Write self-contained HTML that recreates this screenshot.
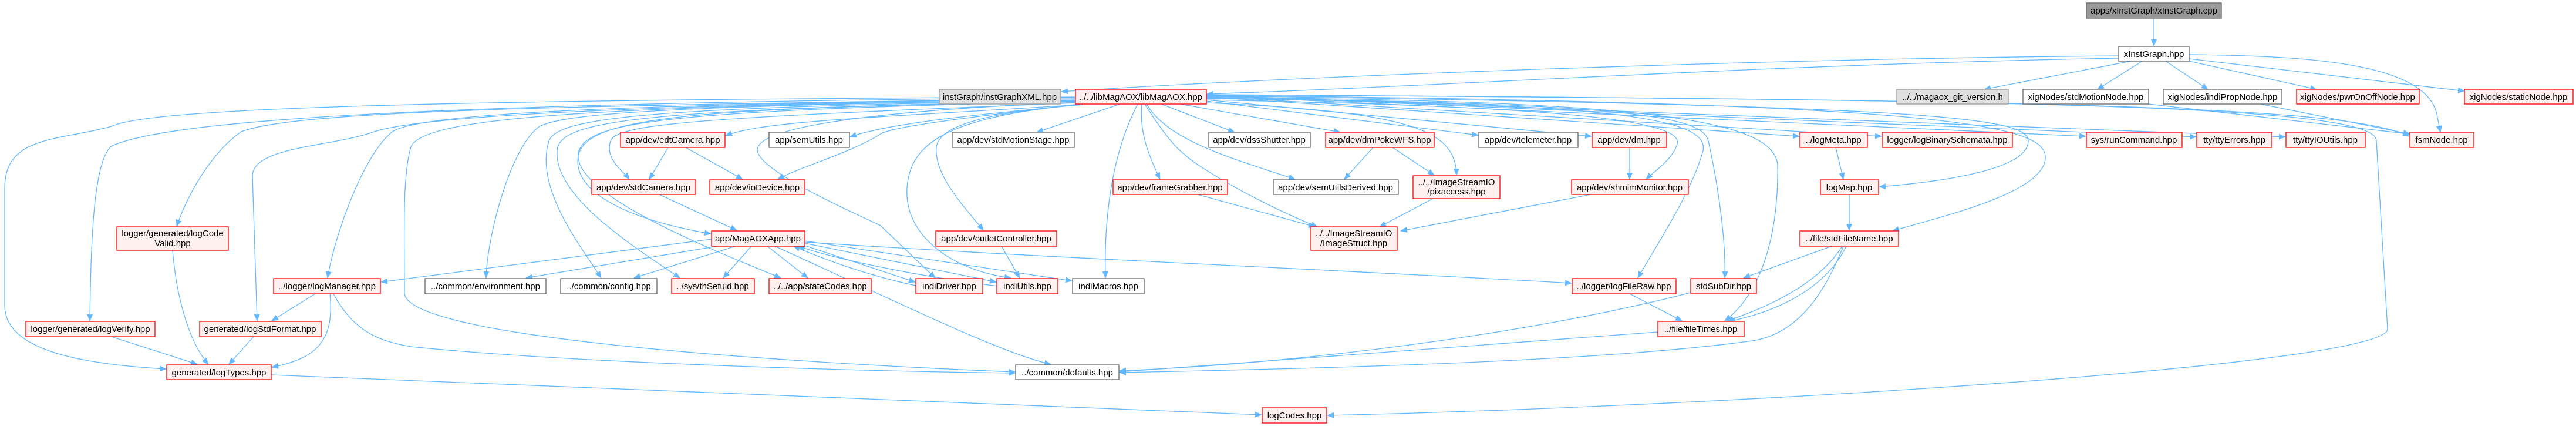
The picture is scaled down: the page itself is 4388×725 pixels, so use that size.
<!DOCTYPE html>
<html><head><meta charset="utf-8"><style>
html,body{margin:0;padding:0;background:#fff;}
svg{display:block;}
text{font-family:"Liberation Sans",sans-serif;font-size:15px;fill:#000;text-anchor:middle;}
.e{fill:none;stroke:#63b8ff;stroke-width:1.3;marker-end:url(#a);}
.r{fill:#fff0f0;stroke:#ff0000;stroke-width:1.3;}
.g{fill:#fff;stroke:#666;stroke-width:1.3;}
.l{fill:#e0e0e0;stroke:#999;stroke-width:1.3;}
.d{fill:#999;stroke:#666;stroke-width:1.3;}
</style></head><body>
<svg width="4388" height="725" viewBox="0 0 4388 725" xmlns="http://www.w3.org/2000/svg">
<defs><marker id="a" markerWidth="12" markerHeight="10" refX="11" refY="5" orient="auto" markerUnits="userSpaceOnUse"><path d="M0,0 L12,5 L0,10 z" fill="#63b8ff"/></marker></defs>
<g>
<path class="e" d="M3669,31 L3669,78"/>
<path class="e" d="M3609,95 C3000,100 2200,130 1808,156"/>
<path class="e" d="M3609,99 C3000,110 2500,145 2056,160"/>
<path class="e" d="M3630,104 L3380,152"/>
<path class="e" d="M3649,104 L3573,152"/>
<path class="e" d="M3689,104 L3761,152"/>
<path class="e" d="M3729,104 L3946,152"/>
<path class="e" d="M3729,100 L4198,155"/>
<path class="e" d="M3729,93 C3950,95 4140,110 4152,200 L4157,225"/>
<path class="e" d="M3660,177 L4105,228"/>
<path class="e" d="M3850,177 L4105,228"/>
<!-- libMagAOX left -->
<path class="e" d="M1840,178 C1500,200 1300,205 1236,231"/>
<path class="e" d="M1845,178 C1600,200 1500,215 1448,233"/>
<path class="e" d="M1835,175 C1200,200 1050,210 1040,240 C1030,270 1060,290 1072,305"/>
<path class="e" d="M1838,177 C1650,200 1520,215 1500,228 C1450,260 1360,285 1325,305"/>
<path class="e" d="M1835,172 C1200,185 1000,195 985,265 C975,320 1050,370 1211,398"/>
<path class="e" d="M1832,168 C900,180 500,190 411,224 C360,260 320,330 301,385"/>
<path class="e" d="M1832,168 C1000,178 720,195 670,223 C620,260 570,400 558,473"/>
<path class="e" d="M1835,170 C1100,180 960,195 919,215 C870,250 830,400 828,473"/>
<path class="e" d="M1835,171 C1100,182 950,200 935,240 C910,320 990,420 1024,473"/>
<path class="e" d="M1835,172 C1100,185 965,205 950,250 C935,330 1080,420 1158,473"/>
<path class="e" d="M1835,173 C1100,188 1000,210 985,260 C975,330 1200,420 1330,473"/>
<path class="e" d="M1832,166 C800,175 300,200 191,248 C160,270 155,400 153,546"/>
<path class="e" d="M1832,168 C1000,180 700,200 632,226 C560,250 430,250 430,300 L438,546"/>
<path class="e" d="M1832,165 C700,170 250,185 190,215 C100,240 8,230 8,320 L8,520 C8,600 150,620 283,628"/>
<path class="e" d="M1832,170 C1000,180 720,200 700,250 C685,300 689,400 689,500 C700,580 1400,620 1729,633"/>
<!-- libMagAOX right -->
<path class="e" d="M1908,177 L1766,225"/>
<path class="e" d="M1978,177 L2103,225"/>
<path class="e" d="M2010,177 L2283,225"/>
<path class="e" d="M2055,172 L2518,230"/>
<path class="e" d="M2055,170 L2711,232"/>
<path class="e" d="M1945,177 C1940,230 1960,270 1976,305"/>
<path class="e" d="M1953,177 C1990,240 2100,270 2206,305"/>
<path class="e" d="M2055,175 C2400,190 2480,220 2481,298"/>
<path class="e" d="M2055,170 C2600,180 2870,200 2857,245 C2850,270 2820,290 2804,305"/>
<path class="e" d="M1950,177 C1990,240 2010,260 2040,280 C2100,320 2180,360 2244,386"/>
<path class="e" d="M1840,178 C1700,190 1600,210 1595,250 C1590,300 1650,360 1675,392"/>
<path class="e" d="M1835,174 C1450,190 1290,220 1290,255 C1290,290 1450,360 1500,384 L1593,473"/>
<path class="e" d="M1840,178 C1600,200 1550,250 1545,320 C1540,400 1620,460 1722,473"/>
<path class="e" d="M1938,177 C1900,250 1880,350 1883,473"/>
<path class="e" d="M2055,168 C2750,175 2920,200 2900,260 C2880,330 2820,420 2790,473"/>
<path class="e" d="M2055,167 C2800,175 2900,200 2910,240 C2930,330 2940,420 2938,473"/>
<path class="e" d="M2055,166 C2850,170 3020,210 3028,280 C3030,400 3000,500 2938,546"/>
<path class="e" d="M2055,165 L3065,232"/>
<path class="e" d="M2055,164 L3205,232"/>
<path class="e" d="M2055,163 L3553,232"/>
<path class="e" d="M2055,162 L3741,233"/>
<path class="e" d="M2055,162 L3893,233"/>
<path class="e" d="M2055,161 C3500,170 4000,180 4104,232"/>
<path class="e" d="M2055,163 C3300,180 3455,200 3455,240 C3455,290 3300,310 3201,318"/>
<path class="e" d="M2055,162 C3300,175 3490,210 3484,270 C3480,330 3300,370 3224,393"/>
<path class="e" d="M2055,161 C3500,170 4050,180 4048,240 L4067,560 C4067,620 3000,690 2261,707"/>
<!-- others -->
<path class="e" d="M462,638 L2149,706"/>
<path class="e" d="M294,426 C300,500 320,580 355,620"/>
<path class="e" d="M190,573 L336,620"/>
<path class="e" d="M432,573 L390,620"/>
<path class="e" d="M537,500 L463,546"/>
<path class="e" d="M562,500 C570,580 540,610 463,625"/>
<path class="e" d="M568,500 C600,560 640,580 700,590 C1000,620 1500,632 1729,635"/>
<path class="e" d="M1138,251 L1106,305"/>
<path class="e" d="M1168,251 L1265,305"/>
<path class="e" d="M1123,331 L1255,392"/>
<path class="e" d="M1212,407 L649,480"/>
<path class="e" d="M1222,419 L896,473"/>
<path class="e" d="M1253,419 L1080,473"/>
<path class="e" d="M1280,419 L1232,473"/>
<path class="e" d="M1307,419 L1376,473"/>
<path class="e" d="M1371,418 L1559,480"/>
<path class="e" d="M1371,414 L1697,480"/>
<path class="e" d="M1371,410 L1826,478"/>
<path class="e" d="M1371,412 C1800,440 2300,460 2677,482"/>
<path class="e" d="M1320,419 C1500,500 1700,600 1790,620"/>
<path class="e" d="M1565,487 C1480,470 1400,440 1352,419"/>
<path class="e" d="M1700,487 C1560,470 1420,440 1360,419"/>
<path class="e" d="M1706,419 L1737,473"/>
<path class="e" d="M2040,331 L2240,386"/>
<path class="e" d="M2339,251 L2290,305"/>
<path class="e" d="M2372,251 L2443,298"/>
<path class="e" d="M2441,338 L2350,386"/>
<path class="e" d="M2710,331 L2386,393"/>
<path class="e" d="M2776,251 L2776,305"/>
<path class="e" d="M3127,251 L3140,305"/>
<path class="e" d="M3150,331 L3150,392"/>
<path class="e" d="M3120,419 L2970,473"/>
<path class="e" d="M3138,419 C3100,480 3020,520 2942,546"/>
<path class="e" d="M3145,419 C3110,490 3030,530 2945,547"/>
<path class="e" d="M2776,500 L2865,546"/>
<path class="e" d="M3140,419 C3100,520 3050,570 2985,580 C2700,620 2100,630 1907,634"/>
<path class="e" d="M2880,498 C2600,570 2200,620 1907,631"/>
<path class="e" d="M2824,565 L1907,633"/>
</g>
<g>
<rect class="d" x="3554" y="5" width="230" height="26"/><text x="3669" y="23">apps/xInstGraph/xInstGraph.cpp</text>
<rect class="g" x="3609" y="79" width="120" height="25"/><text x="3669" y="97">xInstGraph.hpp</text>
<rect class="l" x="1600" y="152" width="207" height="25"/><text x="1703" y="170">instGraph/instGraphXML.hpp</text>
<rect class="r" x="1832" y="152" width="223" height="25"/><text x="1943" y="170">../../libMagAOX/libMagAOX.hpp</text>
<rect class="l" x="3231" y="152" width="190" height="25"/><text x="3326" y="170">../../magaox_git_version.h</text>
<rect class="g" x="3446" y="152" width="214" height="25"/><text x="3553" y="170">xigNodes/stdMotionNode.hpp</text>
<rect class="g" x="3685" y="152" width="202" height="25"/><text x="3786" y="170">xigNodes/indiPropNode.hpp</text>
<rect class="r" x="3912" y="152" width="209" height="25"/><text x="4016" y="170">xigNodes/pwrOnOffNode.hpp</text>
<rect class="r" x="4198" y="152" width="185" height="25"/><text x="4290" y="170">xigNodes/staticNode.hpp</text>
<rect class="r" x="1057" y="225" width="178" height="26"/><text x="1146" y="243">app/dev/edtCamera.hpp</text>
<rect class="g" x="1310" y="225" width="137" height="26"/><text x="1378" y="243">app/semUtils.hpp</text>
<rect class="g" x="1622" y="225" width="208" height="26"/><text x="1726" y="243">app/dev/stdMotionStage.hpp</text>
<rect class="g" x="2059" y="225" width="173" height="26"/><text x="2145" y="243">app/dev/dssShutter.hpp</text>
<rect class="r" x="2258" y="225" width="185" height="26"/><text x="2350" y="243">app/dev/dmPokeWFS.hpp</text>
<rect class="g" x="2519" y="225" width="169" height="26"/><text x="2603" y="243">app/dev/telemeter.hpp</text>
<rect class="r" x="2712" y="225" width="127" height="26"/><text x="2775" y="243">app/dev/dm.hpp</text>
<rect class="r" x="3066" y="225" width="115" height="26"/><text x="3123" y="243">../logMeta.hpp</text>
<rect class="r" x="3206" y="225" width="222" height="26"/><text x="3317" y="243">logger/logBinarySchemata.hpp</text>
<rect class="r" x="3554" y="225" width="163" height="26"/><text x="3635" y="243">sys/runCommand.hpp</text>
<rect class="r" x="3742" y="225" width="128" height="26"/><text x="3806" y="243">tty/ttyErrors.hpp</text>
<rect class="r" x="3894" y="225" width="135" height="26"/><text x="3961" y="243">tty/ttyIOUtils.hpp</text>
<rect class="r" x="4105" y="225" width="109" height="26"/><text x="4159" y="243">fsmNode.hpp</text>
<rect class="r" x="1008" y="306" width="177" height="25"/><text x="1096" y="324">app/dev/stdCamera.hpp</text>
<rect class="r" x="1209" y="306" width="162" height="25"/><text x="1290" y="324">app/dev/ioDevice.hpp</text>
<rect class="r" x="1896" y="306" width="195" height="25"/><text x="1993" y="324">app/dev/frameGrabber.hpp</text>
<rect class="g" x="2169" y="306" width="213" height="25"/><text x="2275" y="324">app/dev/semUtilsDerived.hpp</text>
<rect class="r" x="2407" y="299" width="148" height="39"/><text x="2481" y="315">../../ImageStreamIO</text><text x="2481" y="331">/pixaccess.hpp</text>
<rect class="r" x="2677" y="306" width="199" height="25"/><text x="2776" y="324">app/dev/shmimMonitor.hpp</text>
<rect class="r" x="3101" y="306" width="99" height="25"/><text x="3150" y="324">logMap.hpp</text>
<rect class="r" x="199" y="386" width="190" height="40"/><text x="294" y="402">logger/generated/logCode</text><text x="294" y="419">Valid.hpp</text>
<rect class="r" x="1212" y="393" width="159" height="26"/><text x="1291" y="411">app/MagAOXApp.hpp</text>
<rect class="r" x="1594" y="393" width="206" height="26"/><text x="1697" y="411">app/dev/outletController.hpp</text>
<rect class="r" x="2233" y="386" width="147" height="40"/><text x="2306" y="402">../../ImageStreamIO</text><text x="2306" y="419">/ImageStruct.hpp</text>
<rect class="r" x="3066" y="393" width="168" height="26"/><text x="3150" y="411">../file/stdFileName.hpp</text>
<rect class="r" x="466" y="474" width="182" height="26"/><text x="557" y="492">../logger/logManager.hpp</text>
<rect class="g" x="724" y="474" width="206" height="26"/><text x="827" y="492">../common/environment.hpp</text>
<rect class="g" x="955" y="474" width="164" height="26"/><text x="1037" y="492">../common/config.hpp</text>
<rect class="r" x="1144" y="474" width="141" height="26"/><text x="1214" y="492">../sys/thSetuid.hpp</text>
<rect class="r" x="1310" y="474" width="174" height="26"/><text x="1397" y="492">../../app/stateCodes.hpp</text>
<rect class="r" x="1560" y="474" width="114" height="26"/><text x="1617" y="492">indiDriver.hpp</text>
<rect class="r" x="1698" y="474" width="104" height="26"/><text x="1750" y="492">indiUtils.hpp</text>
<rect class="g" x="1827" y="474" width="122" height="26"/><text x="1888" y="492">indiMacros.hpp</text>
<rect class="r" x="2678" y="474" width="177" height="26"/><text x="2766" y="492">../logger/logFileRaw.hpp</text>
<rect class="r" x="2880" y="474" width="112" height="26"/><text x="2936" y="492">stdSubDir.hpp</text>
<rect class="r" x="44" y="547" width="220" height="26"/><text x="154" y="565">logger/generated/logVerify.hpp</text>
<rect class="r" x="340" y="547" width="207" height="26"/><text x="443" y="565">generated/logStdFormat.hpp</text>
<rect class="r" x="2824" y="547" width="147" height="26"/><text x="2897" y="565">../file/fileTimes.hpp</text>
<rect class="r" x="284" y="621" width="178" height="25"/><text x="373" y="639">generated/logTypes.hpp</text>
<rect class="g" x="1730" y="621" width="176" height="25"/><text x="1818" y="639">../common/defaults.hpp</text>
<rect class="r" x="2150" y="694" width="110" height="26"/><text x="2205" y="712">logCodes.hpp</text>
</g>
</svg>
</body></html>
